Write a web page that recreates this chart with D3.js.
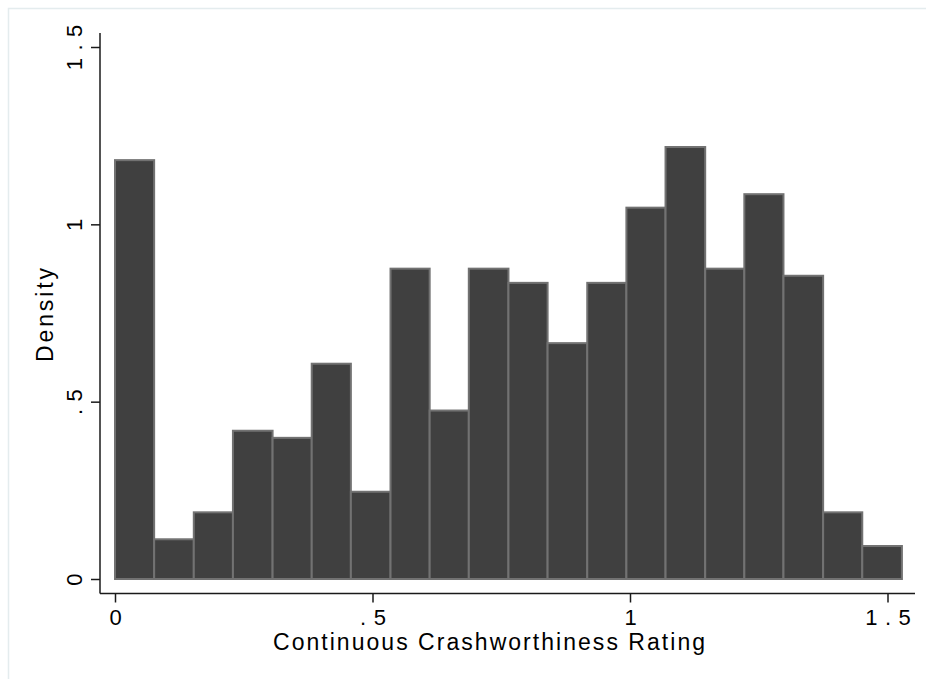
<!DOCTYPE html>
<html>
<head>
<meta charset="utf-8">
<script src="https://cdn.jsdelivr.net/npm/d3@7"></script>
<style>
  body { margin: 0; background: #fff; }
  text { font-family: "Liberation Sans", Arial, sans-serif; fill: #000; }
</style>
</head>
<body>
<div id="chart"></div>
<script>
// histogram bin edges (21 edges -> 20 bins)
const binEdges = [0, .076, .153, .229, .306, .382, .458, .535, .611, .687, .764,
   .840, .917, .993, 1.069, 1.146, 1.222, 1.298, 1.375, 1.451, 1.528]

// density of each bin
const densities = [1.181, 0.112, 0.188, 0.418, 0.398, 0.607, 0.246, 0.875, 0.475, 0.875,
   0.835, 0.665, 0.835, 1.047, 1.218, 0.875, 1.085, 0.855, 0.188, 0.093]

const xTicks = [0, 0.5, 1, 1.5]
const xTickLabels = ["0", ".5", "1", "1.5"]
const yTicks = [0, 0.5, 1, 1.5]
const yTickLabels = ["0", ".5", "1", "1.5"]

const xTitle = "Continuous Crashworthiness Rating"
const yTitle = "Density"

let width = 926, height = 679

// plot region edges (where the axis lines run)
let plotLeft = 100, plotRight = 915, plotTop = 33, plotBottom = 593.5

let x = d3.scaleLinear().domain([0, 1.5]).range([115, 887.5])
let y = d3.scaleLinear().domain([0, 1.5]).range([579, 47])

let bins = densities.map(function (d, i) {
   return { x0: binEdges[i], x1: binEdges[i + 1], value: d }
})

let svg = d3.select("#chart").append("svg")
   .attr("width", width)
   .attr("height", height)

// light outer frame
svg.append("rect")
   .attr("x", 8.5).attr("y", 8.5)
   .attr("width", width + 20).attr("height", height + 20)
   .attr("fill", "none")
   .attr("stroke", "#e4ecee")
   .attr("stroke-width", 1.5)

// bars
svg.selectAll("rect.bar")
   .data(bins)
   .join("rect")
   .attr("class", "bar")
   .attr("x", function (d) { return x(d.x0) })
   .attr("width", function (d) { return x(d.x1) - x(d.x0) })
   .attr("y", function (d) { return y(d.value) })
   .attr("height", function (d) { return y(0) - y(d.value) })
   .attr("fill", "#404040")
   .attr("stroke", "#727272")
   .attr("stroke-width", 2)

// y axis
let yAxis = svg.append("g")
   .attr("transform", "translate(" + plotLeft + ",0)")
   .call(d3.axisLeft(y).tickValues(yTicks).tickSize(9).tickSizeOuter(0)
      .tickFormat(function (d, i) { return yTickLabels[i] }))

yAxis.attr("font-size", null).attr("font-family", null)
yAxis.select(".domain").remove()
yAxis.selectAll("g.tick line").attr("stroke", "#1a1a1a").attr("stroke-width", 1.5)
yAxis.selectAll("g.tick text")
   .attr("x", null).attr("dy", null)
   .attr("transform", "translate(-18,0) rotate(-90)")
   .attr("text-anchor", "middle")
   .attr("dx", 3.75)
   .attr("font-size", 22)
   .style("letter-spacing", "7.5px")
   .attr("fill", "#000")

// x axis
let xAxis = svg.append("g")
   .attr("transform", "translate(0," + plotBottom + ")")
   .call(d3.axisBottom(x).tickValues(xTicks).tickSize(9).tickSizeOuter(0)
      .tickFormat(function (d, i) { return xTickLabels[i] }))

xAxis.attr("font-size", null).attr("font-family", null)
xAxis.select(".domain").remove()
xAxis.selectAll("g.tick line").attr("stroke", "#1a1a1a").attr("stroke-width", 1.5)
xAxis.selectAll("g.tick text")
   .attr("y", 31.5).attr("dy", null)
   .attr("dx", 3.75)
   .attr("font-size", 22)
   .style("letter-spacing", "7.5px")
   .attr("fill", "#000")

// axis lines
svg.append("line")
   .attr("x1", plotLeft).attr("x2", plotLeft)
   .attr("y1", plotTop).attr("y2", plotBottom)
   .attr("stroke", "#1a1a1a").attr("stroke-width", 1.5)

svg.append("line")
   .attr("x1", plotLeft).attr("x2", plotRight)
   .attr("y1", plotBottom).attr("y2", plotBottom)
   .attr("stroke", "#1a1a1a").attr("stroke-width", 1.5)

// axis titles
svg.append("text")
   .attr("x", 489).attr("y", 649.5)
   .attr("text-anchor", "middle")
   .attr("font-size", 23)
   .attr("textLength", 432)
   .attr("lengthAdjust", "spacing")
   .text(xTitle)

svg.append("text")
   .attr("transform", "translate(53,315) rotate(-90)")
   .attr("text-anchor", "middle")
   .attr("font-size", 23)
   .attr("textLength", 94)
   .attr("lengthAdjust", "spacing")
   .text(yTitle)
</script>
</body>
</html>
